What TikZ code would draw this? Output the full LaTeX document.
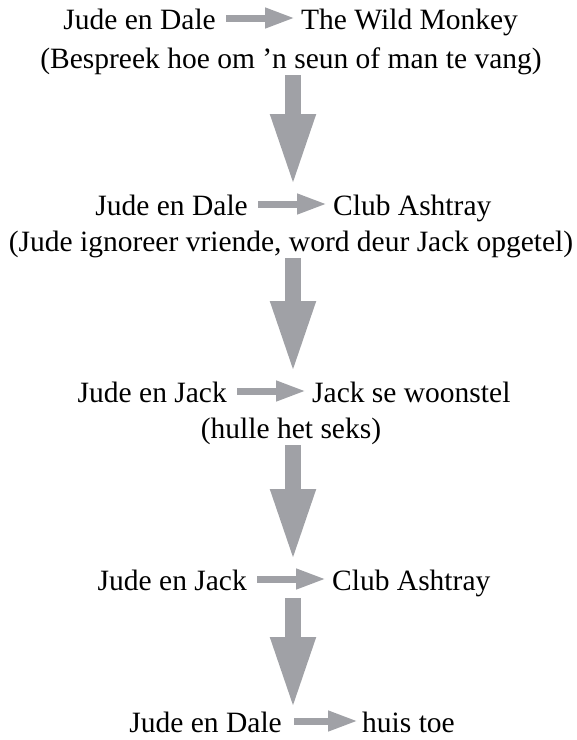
\documentclass[tikz,border=0pt]{standalone}
\usepackage{fontspec}
\setmainfont{Liberation Serif}
\usetikzlibrary{arrows.meta}
\definecolor{arrowgray}{RGB}{160,161,166}
\tikzset{
  txt/.style={inner sep=0pt, font=\fontsize{29.5}{35}\selectfont},
  bigarrow/.style={draw=arrowgray, line width=16pt, -{Triangle[width=41pt,length=73pt]}},
  smallarrow/.style={draw=arrowgray, line width=7pt, -{Triangle[width=19pt,length=30pt]}}
}

\begin{document}
\begin{tikzpicture}[x=1pt,y=-1pt]
                \useasboundingbox (0,0) rectangle (577,740);
                % stap 1
                \node[txt,anchor=base east] (wie1) at (216,29) {Jude en Dale};
                \node[txt,anchor=base west] (waar1) at (301,29) {The Wild Monkey};
                \node[txt,anchor=base] (wat1) at (291,68) {(Bespreek hoe om 'n seun of man te vang)};
                % stap 2
                \node[txt,anchor=base east] (wie2) at (248,215) {Jude en Dale};
                \node[txt,anchor=base west] (waar2) at (333,215) {Club Ashtray};
                \node[txt,anchor=base] (wat2) at (291,251) {(Jude ignoreer vriende, word deur Jack opgetel)};
                % stap 3
                \node[txt,anchor=base east] (wie3) at (227,402) {Jude en Jack};
                \node[txt,anchor=base west] (waar3) at (312,402) {Jack se woonstel};
                \node[txt,anchor=base] (wat3) at (291,438) {(hulle het seks)};
                % stap 4
                \node[txt,anchor=base east] (wie4) at (247,590) {Jude en Jack};
                \node[txt,anchor=base west] (waar4) at (332,590) {Club Ashtray};
                % stap 5
                \node[txt,anchor=base east] (wie5) at (282,732) {Jude en Dale};
                \node[txt,anchor=base west] (waar5) at (362,732) {huis toe};
                % klein pyle
                \draw[smallarrow] ([shift={(10,-11)}]wie1.base east) -- ([shift={(-6,-11)}]waar1.base west);
                \draw[smallarrow] ([shift={(10,-11)}]wie2.base east) -- ([shift={(-6,-11)}]waar2.base west);
                \draw[smallarrow] ([shift={(10,-11)}]wie3.base east) -- ([shift={(-6,-11)}]waar3.base west);
                \draw[smallarrow] ([shift={(10,-11)}]wie4.base east) -- ([shift={(-6,-11)}]waar4.base west);
                \draw[smallarrow] ([shift={(12,-11)}]wie5.base east) -- ([shift={(-4,-11)}]waar5.base west);
                % groot pyle
                \coordinate (bo1) at (293,75);  \coordinate (punt1) at (293,187);
                \coordinate (bo2) at (293,258); \coordinate (punt2) at (293,374);
                \coordinate (bo3) at (293,445); \coordinate (punt3) at (293,562);
                \coordinate (bo4) at (293,598); \coordinate (punt4) at (293,710);
                \draw[bigarrow] (bo1) -- (punt1);
                \draw[bigarrow] (bo2) -- (punt2);
                \draw[bigarrow] (bo3) -- (punt3);
                \draw[bigarrow] (bo4) -- (punt4);
\end{tikzpicture}
\end{document}
